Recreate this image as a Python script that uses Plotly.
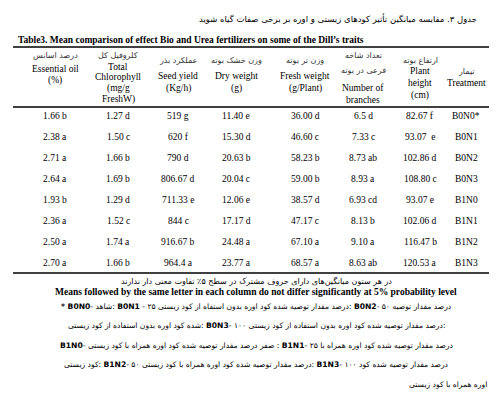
import plotly.graph_objects as go

# Data
treatments = ["B0N0*", "B0N1", "B0N2", "B0N3", "B1N0", "B1N1", "B1N2", "B1N3"]
plant_height = ["82.67 f", "93.07  e", "102.86 d", "108.80 c", "93.07 e", "102.06 d", "116.47 b", "120.53 a"]
branches = ["6.5 d", "7.33 c", "8.73 ab", "8.93 a", "6.93 cd", "8.13 b", "9.10 a", "8.63 ab"]
fresh_weight = ["36.00 d", "46.60 c", "58.23 b", "59.00 b", "38.57 d", "47.17 c", "67.10 a", "68.57 a"]
dry_weight = ["11.40 e", "15.30 d", "20.63 b", "20.04 c", "12.06 e", "17.17 d", "24.48 a", "23.77 a"]
seed_yield = ["519 g", "620 f", "790 d", "806.67 d", "711.33 e", "844 c", "916.67 b", "964.4 a"]
chlorophyll = ["1.27 d", "1.50 c", "1.66 b", "1.69 b", "1.29 d", "1.52 c", "1.74 a", "1.66 b"]
essential_oil = ["1.66 b", "2.38 a", "2.71 a", "2.64 a", "1.93 b", "2.36 a", "2.50 a", "2.70 a"]

columns = [essential_oil, chlorophyll, seed_yield, dry_weight, fresh_weight, branches, plant_height, treatments]
col_x = [47, 110, 170, 228, 297, 355, 412, 458]

headers = [
    [("درصد اسانس", 47), ("Essential oil", 61), ("(%)", 72)],
    [("کلروفیل کل", 47), ("Total", 59), ("Chlorophyll", 69), ("(mg/g", 80), ("FreshW)", 91)],
    [("عملکرد بذر", 52), ("Seed yield", 68), ("(Kg/h)", 80)],
    [("وزن خشک بوته", 52), ("Dry weight", 68), ("(g)", 80)],
    [("وزن تر بوته", 52), ("Fresh weight", 68), ("(g/Plant)", 80)],
    [("تعداد شاخه", 47), ("فرعی در بوته", 62), ("Number of", 80), ("branches", 92)],
    [("ارتفاع بوته", 52), ("Plant", 63), ("height", 75), ("(cm)", 87)],
    [("تیمار", 63), ("Treatment", 75)],
]

serif = "Liberation Serif"
arab = "DejaVu Sans"

fig = go.Figure()
fig.add_trace(go.Scatter(x=[0], y=[0], mode="markers", marker=dict(opacity=0), hoverinfo="skip"))

def txt(x, y, s, size=9.5, font=serif, anchor="center", color="black"):
    fig.add_annotation(x=x, y=y, text=s, showarrow=False, xanchor=anchor, yanchor="middle",
                       font=dict(family=font, size=size, color=color))

def is_arabic(s):
    return any("\u0600" <= ch <= "\u06ff" for ch in s)

txt(330, 10, "جدول ۳. مقایسه میانگین تأثیر کودهای زیستی و اوره بر برخی صفات گیاه شوید", 8.5, arab)
txt(8, 32, "<b>Table3. Mean comparison of effect Bio and Urea fertilizers on some of the Dill’s traits</b>", 9.5, serif, "left")

for cx, hdr in zip(col_x, headers):
    for s, y in hdr:
        if is_arabic(s):
            txt(cx, y, s, 8, arab, color="#333")
        else:
            txt(cx, y, s, 9.5)

for cx, col in zip(col_x, columns):
    for i, v in enumerate(col):
        txt(cx, 108 + 21 * i, v, 9.5)

for y, w in [(39, 1.5), (99, 1.5), (265, 1.5)]:
    fig.add_shape(type="line", x0=5, x1=492, y0=y, y1=y, line=dict(color="black", width=w))

txt(248, 273, "در هر ستون میانگین‌های دارای حروف مشترک در سطح ۵٪ تفاوت معنی دار ندارند", 8, arab)
txt(248, 284, "<b>Means followed by the same letter in each column do not differ significantly at 5% probability level</b>", 9.5)

foot = [
    "<b>* B0N0</b>- شاهد: <b>B0N1</b> - ۲۵ درصد مقدار توصیه شده کود اوره بدون استفاه از کود زیستی: <b>B0N2</b>- ۵۰ درصد مقدار توصیه",
    "شده کود اوره بدون استفاده از کود زیستی: <b>B0N3</b>- ۱۰۰ درصد مقدار توصیه شده کود اوره بدون استفاده از کود زیستی:",
    "<b>B1N0</b>- صفر درصد مقدار توصیه شده کود اوره همراه با کود زیستی : <b>B1N1</b>- ۲۵ درصد مقدار توصیه شده کود اوره همراه با",
    "کود زیستی: <b>B1N2</b>- ۵۰ درصد مقدار توصیه شده کود اوره همراه با کود زیستی: <b>B1N3</b>- ۱۰۰ درصد مقدار توصیه شده کود",
]
for i, s in enumerate(foot):
    txt(248, 298 + 19.5 * i, s, 7.6, arab)
txt(440, 298 + 19.5 * 4, "اوره همراه با کود زیستی", 7.6, arab)

fig.update_layout(
    width=497, height=402, margin=dict(l=0, r=0, t=0, b=0),
    plot_bgcolor="white", paper_bgcolor="white", showlegend=False,
    xaxis=dict(range=[0, 497], visible=False, fixedrange=True),
    yaxis=dict(range=[402, 0], visible=False, fixedrange=True),
)

fig.write_html("out.html")
